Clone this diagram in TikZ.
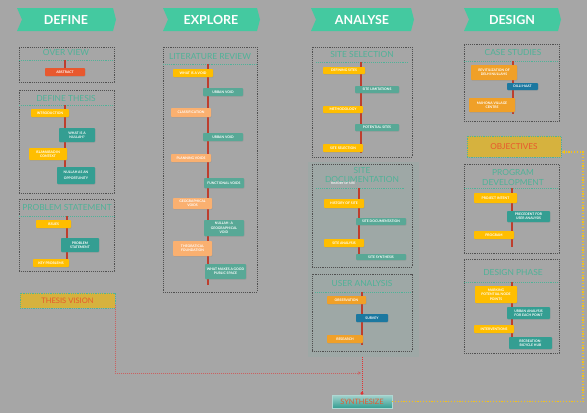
\documentclass[tikz,border=0pt]{standalone}
\usepackage{fontspec}
\setmainfont{Lato}
\usetikzlibrary{arrows.meta}
\usetikzlibrary{positioning,shadows}
\definecolor{bggray}{RGB}{166,166,166}
\definecolor{bannerteal}{RGB}{68,201,160}
\definecolor{titleteal}{RGB}{80,178,152}
\definecolor{panelgray}{RGB}{80,80,80}
\definecolor{spinered}{RGB}{190,62,45}
\definecolor{boxyellow}{RGB}{255,190,0}
\definecolor{boxteal}{RGB}{52,158,146}
\definecolor{boxlteal}{RGB}{88,168,150}
\definecolor{boxpeach}{RGB}{250,176,112}
\definecolor{boxorange}{RGB}{240,160,40}
\definecolor{boxblue}{RGB}{28,120,160}
\definecolor{boxred}{RGB}{232,88,46}
\definecolor{goldbox}{RGB}{214,178,62}
\definecolor{goldline}{RGB}{245,195,24}
\definecolor{linkred}{RGB}{226,50,50}
\definecolor{containergray}{RGB}{158,168,166}
\tikzset{
  banner/.style={fill=bannerteal},
  bannertext/.style={text=white, font=\fontsize{12.5}{14}\selectfont\bfseries},
  panel/.style={draw=panelgray, densely dotted, line width=0.9pt, inner sep=0pt},
  paneltitle/.style={text=titleteal, align=center, font=\fontsize{8.4}{9.2}\selectfont},
  divider/.style={draw=titleteal, densely dotted, line width=0.9pt},
  spine/.style={draw=spinered, line width=1.4pt},
  stepbox/.style={
    rounded corners=0.8pt,
    inner sep=0pt,
    text=white,
    align=center,
    font=\fontsize{3.4}{4.4}\selectfont\bfseries,
    drop shadow={shadow xshift=0.4pt, shadow yshift=-0.6pt, opacity=0.3}
  },
  ybox/.style={stepbox, fill=boxyellow},
  tbox/.style={stepbox, fill=boxteal},
  lbox/.style={stepbox, fill=boxlteal},
  pbox/.style={stepbox, fill=boxpeach},
  obox/.style={stepbox, fill=boxorange},
  bbox/.style={stepbox, fill=boxblue},
  rbox/.style={stepbox, fill=boxred},
  goalbox/.style={
    fill=goldbox,
    draw=titleteal,
    densely dotted,
    line width=0.8pt,
    inner sep=0pt,
    text=boxred,
    font=\fontsize{7.6}{8}\selectfont
  },
  redlink/.style={draw=linkred, dash pattern=on 0.8pt off 1.2pt, line width=0.7pt},
  goldlink/.style={draw=goldline, dash pattern=on 1.2pt off 1.6pt, line width=1.3pt}
}

\begin{document}
\begin{tikzpicture}[x=1pt, y=-1pt]
  \fill[bggray] (0,0) rectangle (587,413);

  % headers
  \foreach \bx/\bw/\bt in {17/96/DEFINE, 163/94/EXPLORE, 311/100/ANALYSE, 464/94/DESIGN}{
    \fill[banner] (\bx,8) -- ++(\bw,0) -- ++(3,11.5) -- ++(-3,11.5) -- ++(-\bw,0) -- ++(5,-11.5) -- cycle;
    \node[bannertext] (b-\bt) at (\bx+\bw/2+1,19.5) {\bt};
  }

  % analyse container
  \node[fill=containergray, minimum width=111, minimum height=195, inner sep=0pt] (container) at (363.5,259.5) {};

  % panels
  \node[panel, minimum width=95, minimum height=35] (overview) at (66.5,64.5) {};
  \node[panel, minimum width=95, minimum height=103] (thesis) at (66.5,141.5) {};
  \node[panel, minimum width=95, minimum height=72] (problem) at (66.5,235) {};
  \node[panel, minimum width=94, minimum height=245] (literature) at (210,169.5) {};
  \node[panel, minimum width=100, minimum height=110] (selection) at (362,102) {};
  \node[panel, minimum width=100, minimum height=103] (documentation) at (362,215.5) {};
  \node[panel, minimum width=100, minimum height=77] (useranalysis) at (362,312.5) {};
  \node[panel, minimum width=95, minimum height=77] (casestudies) at (511.5,82.5) {};
  \node[panel, minimum width=95, minimum height=89] (programdev) at (511.5,208.5) {};
  \node[panel, minimum width=95, minimum height=94] (designphase) at (511.5,306) {};

  % panel titles
  \node[paneltitle] (t-overview) at (66,52.5) {OVER VIEW};
  \node[paneltitle] (t-thesis) at (66,98.5) {DEFINE THESIS};
  \node[paneltitle] (t-problem) at (67,207.5) {PROBLEM STATEMENT};
  \node[paneltitle] (t-literature) at (210,56.5) {LITERATURE REVIEW};
  \node[paneltitle] (t-selection) at (362,54.5) {SITE SELECTION};
  \node[paneltitle] (t-documentation) at (362,175) {SITE\\DOCUMENTATION};
  \node[text=white, font=\fontsize{3}{3.5}\selectfont\bfseries] (t-stray) at (343,183) {HISTORY OF SITE};
  \node[paneltitle] (t-useranalysis) at (362,283.5) {USER ANALYSIS};
  \node[paneltitle] (t-casestudies) at (513,52.5) {CASE STUDIES};
  \node[paneltitle] (t-programdev) at (513,177.5) {PROGRAM\\DEVELOPMENT};
  \node[paneltitle] (t-designphase) at (513,272.5) {DESIGN PHASE};

  \foreach \xa/\xb/\dy in {19/114/60, 19/114/105, 19/115/216, 163/257/64, 316/408/62,
                           316/404/188, 315/411/292, 464/559/61, 464/559/188, 464/559/282}
    \draw[divider] (\xa,\dy) -- (\xb,\dy);

  \foreach \sx/\ya/\yb in {65/60/70, 65/105/170, 67/216/265, 208/64/285, 361/62/153,
                           359/188/254, 362/292/345, 513/61/114, 512/188/247, 512/282/337}
    \draw[spine] (\sx,\ya) -- (\sx,\yb);

  % define
  \node[rbox, minimum width=40, minimum height=8] (abstract) at (65,72) {ABSTRACT};
  \node[ybox, minimum width=38, minimum height=8] (intro) at (50,113) {INTRODUCTION};
  \node[tbox, minimum width=36, minimum height=14] (whatnullah) at (77,135) {WHAT IS A\\NULLAH?};
  \node[ybox, minimum width=38, minimum height=12] (islamabad) at (48,154) {ISLAMABAD IN\\CONTEXT};
  \node[tbox, minimum width=38, minimum height=17] (opportunity) at (76,175.5) {NULLAH AS AN\\[2pt]OPPORTUNITY};
  \node[ybox, minimum width=35, minimum height=8] (issues) at (53.5,224) {ISSUES};
  \node[tbox, minimum width=38, minimum height=14] (probstatement) at (80,245) {PROBLEM\\STATEMENT};
  \node[ybox, minimum width=36, minimum height=8] (keyproblems) at (51,263) {KEY PROBLEMS};
  \node[goalbox, minimum width=95, minimum height=15] (vision) at (67.5,300.5) {THESIS VISION};

  % explore
  \node[ybox, minimum width=40, minimum height=8] (whatvoid) at (193,73) {WHAT IS A VOID};
  \node[lbox, minimum width=40, minimum height=8] (urbanvoid1) at (223,92) {URBAN VOID};
  \node[pbox, minimum width=40, minimum height=9] (classification) at (191,112.5) {CLASSIFICATION};
  \node[lbox, minimum width=40, minimum height=8] (urbanvoid2) at (223,137) {URBAN VOID};
  \node[pbox, minimum width=40, minimum height=8] (planning) at (191,158) {PLANNING VOIDS};
  \node[lbox, minimum width=40, minimum height=10] (functional) at (224,183) {FUNCTIONAL VOIDS};
  \node[pbox, minimum width=39, minimum height=11] (geographical) at (192.5,203.5) {GEOGRAPHICAL\\VOIDS};
  \node[lbox, minimum width=40, minimum height=16] (nullahvoid) at (224,228) {NULLAH- A\\GEOGRAPHICAL\\VOID};
  \node[pbox, minimum width=39, minimum height=15] (theory) at (192.5,248.5) {THEORATICAL\\FOUNDATION};
  \node[lbox, minimum width=41, minimum height=15] (publicspace) at (225.5,271.5) {WHAT MAKES A GOOD\\PUBLIC SPACE};

  % analyse
  \node[ybox, minimum width=42, minimum height=7] (definingsites) at (344,70.5) {DEFINING SITES};
  \node[lbox, minimum width=44, minimum height=7] (limitations) at (377,89.5) {SITE LIMITATIONS};
  \node[ybox, minimum width=40, minimum height=7] (methodology) at (343,109.5) {METHODOLOGY};
  \node[lbox, minimum width=44, minimum height=7] (potential) at (377,127.5) {POTENTIAL SITES};
  \node[ybox, minimum width=40, minimum height=8] (siteselection) at (343,148) {SITE SELECTION};
  \node[ybox, minimum width=40, minimum height=9] (history) at (344,203.5) {HISTORY OF SITE};
  \node[lbox, minimum width=50, minimum height=7] (sitedoc) at (381,221.5) {SITE DOCUMENTATION};
  \node[ybox, minimum width=40, minimum height=8] (siteanalysis) at (344,243) {SITE ANALYSIS};
  \node[lbox, minimum width=50, minimum height=6] (sitesynthesis) at (381,257) {SITE SYNTHESIS};
  \node[obox, minimum width=39, minimum height=8] (observation) at (346.5,300) {OBSERVATION};
  \node[bbox, minimum width=32, minimum height=8] (survey) at (372,318) {SURVEY};
  \node[obox, minimum width=36, minimum height=8] (research) at (345,339) {RESEARCH};
  \node[draw=white!60!boxteal, line width=0.5pt, top color=boxteal!45!white, bottom color=boxteal,
        minimum width=60, minimum height=13, inner sep=0pt, text=boxred,
        font=\fontsize{7.4}{8}\selectfont] (synthesize) at (362,401.5) {SYNTHESIZE};

  % design
  \node[obox, minimum width=46, minimum height=15] (revitalize) at (494,72.5) {REVITILIZATION OF\\DELHI NULLAHS};
  \node[bbox, minimum width=31, minimum height=7] (dillihaat) at (522.5,86.5) {DILLI HAAT};
  \node[obox, minimum width=46, minimum height=14] (mahona) at (492,105) {MAHONA VILLAGE\\CENTRE};
  \node[goalbox, minimum width=94, minimum height=21, font=\fontsize{8.2}{9}\selectfont] (objectives) at (514,146.5) {OBJECTIVES};
  \node[ybox, minimum width=43, minimum height=10] (intent) at (495.5,198) {PROJECT INTENT};
  \node[tbox, minimum width=43, minimum height=11] (precedent) at (528.5,216.5) {PRECEDENT FOR\\USER ANALYSIS};
  \node[ybox, minimum width=40, minimum height=8] (program) at (494,235) {PROGRAM};
  \node[ybox, minimum width=42, minimum height=17] (marking) at (496,294.5) {MARKING\\POTENTIAL NODE\\POINTS};
  \node[tbox, minimum width=43, minimum height=12] (urbanpoint) at (528.5,313) {URBAN ANALYSIS\\FOR EACH POINT};
  \node[ybox, minimum width=40, minimum height=8] (interventions) at (494,329) {INTERVENTIONS};
  \node[tbox, minimum width=43, minimum height=12] (recreation) at (530.5,343) {RECREATION-\\BICYCLE HUB};

  % links
  \coordinate (merge) at (361,373);
  \coordinate (turn) at (583,280);
  \draw[redlink, draw=linkred!60!bggray, -{Stealth[length=3pt, width=3pt]}] ([yshift=-4pt]vision.east) |- (merge);
  \draw[redlink, -{Circle[length=3pt]}] (synthesize.north |- container.south) -- (synthesize.north);
  \draw[goldlink, -{Latex[length=3.5pt, width=4pt]}] (synthesize.east) -| (turn) |- ([yshift=-5.5pt]objectives.east);
\end{tikzpicture}
\end{document}
